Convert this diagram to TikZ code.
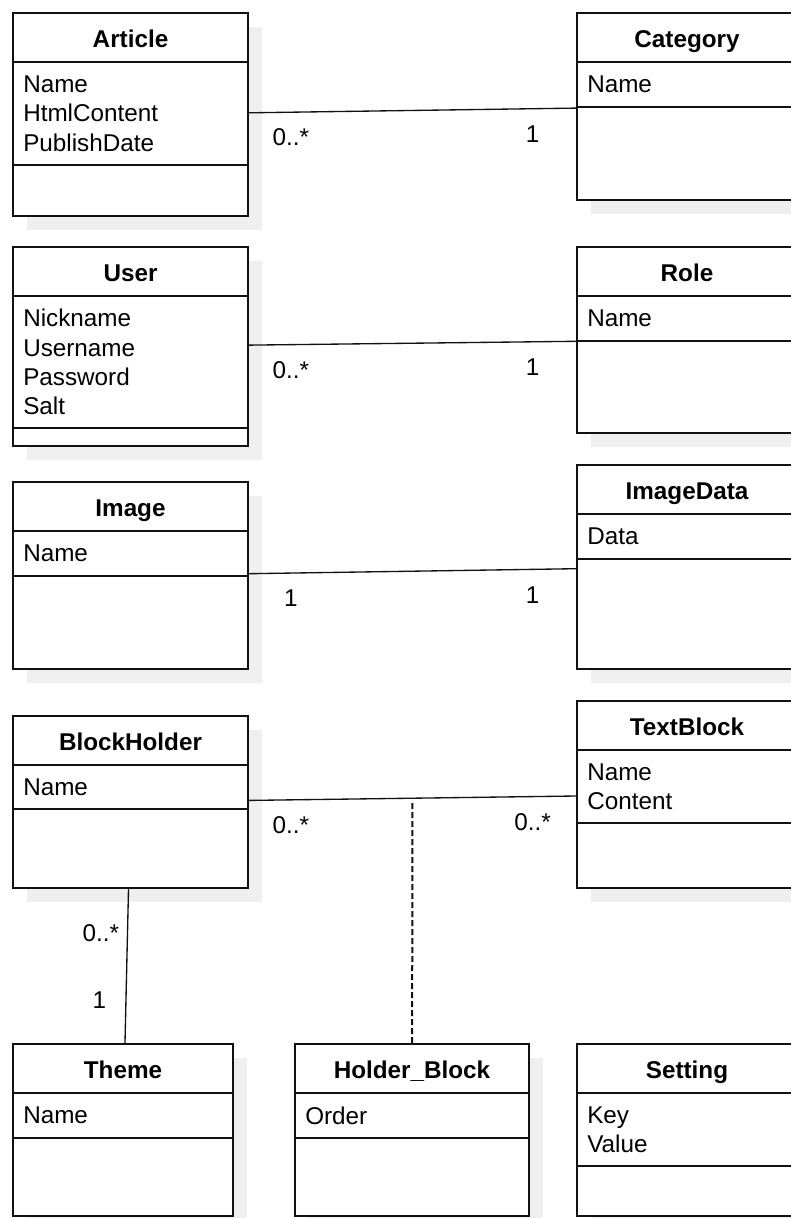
\documentclass[tikz,border=0pt]{standalone}
\usepackage{fontspec}
\setmainfont{Liberation Sans}
\usepackage{tikz}
\usetikzlibrary{positioning,fit,shadows}
\definecolor{umlline}{HTML}{111111}
\definecolor{umlshade}{HTML}{EFEFEF}

% class box: id, top left, width, attr height, ops height, title, attributes (sizes in px)
\newcommand{\umlclass}[7]{%
  \node[clstitle, minimum width=#3*0.75pt, anchor=north west] (#1-t) at #2 {#6};
  \node[clspart, minimum width=#3*0.75pt, minimum height=#4*0.75pt, below=0pt of #1-t] (#1-a) {};
  \node[clspart, minimum width=#3*0.75pt, minimum height=#5*0.75pt, below=0pt of #1-a] (#1-o) {};
  \node[clsattr, anchor=west] (#1-txt) at ([xshift=7.5pt]#1-a.west) {#7};
  \node[fit=(#1-t)(#1-o), inner sep=0pt, outer sep=0pt] (#1) {};
}

\begin{document}
\begin{tikzpicture}[
  x=0.75pt, y=-0.75pt,
  font=\fontsize{18.2pt}{22pt}\selectfont,
  clstitle/.style={draw=umlline, fill=white, line width=1.5pt, outer sep=0pt,
                   inner sep=0pt, minimum height=36.75pt, text height=14.5pt, text depth=0pt,
                   font=\fontsize{18.2pt}{22pt}\selectfont\bfseries,
                   drop shadow={shadow xshift=10.5pt, shadow yshift=-10.5pt, fill=umlshade, opacity=1}},
  clspart/.style={draw=umlline, fill=white, line width=1.5pt, outer sep=0pt, inner sep=0pt,
                  drop shadow={shadow xshift=10.5pt, shadow yshift=-10.5pt, fill=umlshade, opacity=1}},
  clsattr/.style={inner sep=0pt, align=left},
  assoc/.style={draw=umlline, line width=1pt},
  mult/.style={inner sep=0pt},
  dep/.style={draw=umlline, line width=1.5pt, dash pattern=on 4.5pt off 2.25pt}
]
  \useasboundingbox (0,0) rectangle (790,1218);

  %% Classes
  \umlclass{article}{(13,13)}{235}{103}{51}{Article}{Name\\HtmlContent\\PublishDate}
  \umlclass{category}{(577,13)}{220}{45}{93}{Category}{Name}
  \umlclass{user}{(13,247)}{235}{132}{18}{User}{Nickname\\Username\\Password\\Salt}
  \umlclass{role}{(577,247)}{220}{45}{92}{Role}{Name}
  \umlclass{image}{(13,482)}{235}{45}{93}{Image}{Name}
  \umlclass{imagedata}{(577,465)}{220}{45}{110}{ImageData}{Data}
  \umlclass{blockholder}{(13,716)}{235}{44}{79}{BlockHolder}{Name}
  \umlclass{textblock}{(577,701)}{220}{73}{65}{TextBlock}{Name\\Content}
  \umlclass{theme}{(13,1044)}{220}{45}{78}{Theme}{Name}
  \umlclass{holderblock}{(295,1044)}{234}{45}{78}{Holder\_Block}{Order}
  \umlclass{setting}{(577,1044)}{220}{73}{50}{Setting}{Key\\Value}

  %% Associations
  \draw[assoc] (article) -- node[mult, pos=.13, yshift=-19pt] (m1) {0..*}
    node[mult, pos=.865, yshift=-19pt] (m2) {1} (category);
  \draw[assoc] (user) -- node[mult, pos=.13, yshift=-19pt] (m3) {0..*}
    node[mult, pos=.865, yshift=-19pt] (m4) {1} (role);
  \draw[assoc] (image) -- node[mult, pos=.13, yshift=-19pt] (m5) {1}
    node[mult, pos=.865, yshift=-19pt] (m6) {1} (imagedata);
  \draw[assoc] (blockholder) -- node[mult, pos=.13, yshift=-19pt] (m7) {0..*}
    coordinate[pos=.5] (hb)
    node[mult, pos=.865, yshift=-19pt] (m8) {0..*} (textblock);
  \draw[assoc] (blockholder) -- node[mult, pos=.29, xshift=-20pt] (m9) {0..*}
    node[mult, pos=.72, xshift=-20pt] (m10) {1} (theme);

  %% Association class link
  \draw[dep, shorten <=3.75pt] (hb) -- (holderblock);
\end{tikzpicture}
\end{document}
